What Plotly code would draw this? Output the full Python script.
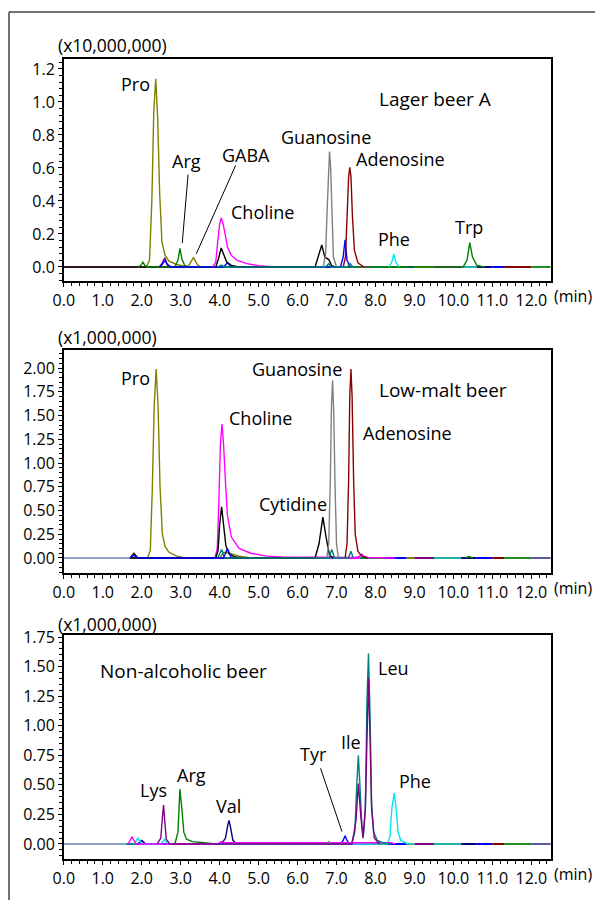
import plotly.graph_objects as go

# Lager beer A (x10,000,000)
lager_colors = ["#808000", "#008000", "#800080", "#0000ff", "#ff00ff", "#000000", "#808080", "#8b0000", "#00e5ee", "#008080"]
lager_t = [
    [2.12, 2.2, 2.26, 2.31, 2.36, 2.41, 2.46, 2.52, 2.6, 2.7, 2.9, 3.18, 3.25, 3.33, 3.41, 3.5],
    [1.9, 1.98, 2.03, 2.08, 2.15, 2.85, 2.93, 2.98, 3.03, 3.1, 3.2, 10.25, 10.35, 10.42, 10.49, 10.6, 10.8],
    [2.45, 2.53, 2.59, 2.65, 2.75],
    [2.48, 2.55, 2.6, 2.66, 2.75, 4.1, 4.2, 4.3, 7.1, 7.17, 7.22, 7.27, 7.35],
    [3.82, 3.9, 3.95, 4.0, 4.04, 4.09, 4.14, 4.2, 4.3, 4.45, 4.7, 5.0, 5.4],
    [3.9, 3.97, 4.04, 4.1, 4.18, 4.3, 4.5, 6.45, 6.55, 6.62, 6.7, 6.75, 6.8, 6.87, 6.95],
    [6.66, 6.72, 6.76, 6.79, 6.82, 6.85, 6.88, 6.92, 7.0],
    [7.17, 7.23, 7.27, 7.31, 7.34, 7.37, 7.41, 7.46, 7.55, 7.7],
    [8.35, 8.42, 8.47, 8.52, 8.6],
    [3.95, 4.05, 4.12, 6.72, 6.8, 6.86, 7.28, 7.35, 7.42],
]
lager_y = [
    [0, 0.04, 0.4, 0.95, 1.14, 0.9, 0.45, 0.15, 0.07, 0.035, 0.015, 0, 0.025, 0.059, 0.02, 0],
    [0, 0.01, 0.03, 0.01, 0, 0, 0.04, 0.113, 0.05, 0.01, 0, 0, 0.04, 0.147, 0.06, 0.01, 0],
    [0, 0.025, 0.056, 0.02, 0],
    [0, 0.02, 0.04, 0.01, 0, 0, 0.025, 0, 0, 0.06, 0.165, 0.04, 0],
    [0, 0.03, 0.15, 0.26, 0.297, 0.26, 0.2, 0.12, 0.07, 0.04, 0.02, 0.008, 0],
    [0, 0.05, 0.115, 0.08, 0.03, 0.01, 0, 0, 0.07, 0.133, 0.06, 0.05, 0.045, 0.01, 0],
    [0, 0.08, 0.35, 0.6, 0.70, 0.6, 0.3, 0.06, 0],
    [0, 0.06, 0.3, 0.54, 0.604, 0.55, 0.3, 0.1, 0.025, 0],
    [0, 0.03, 0.077, 0.03, 0],
    [0, 0.012, 0, 0, 0.02, 0, 0, 0.02, 0],
]

# Low-malt beer (x1,000,000)
lowmalt_colors = ["#808000", "#ff00ff", "#000000", "#808080", "#8b0000", "#008080", "#0000ff", "#008000"]
lowmalt_t = [
    [2.15, 2.22, 2.27, 2.32, 2.37, 2.42, 2.47, 2.53, 2.6, 2.7, 2.9, 3.1, 4.0, 4.1, 4.25, 4.5, 4.8],
    [3.88, 3.94, 3.98, 4.02, 4.06, 4.1, 4.15, 4.2, 4.3, 4.5, 4.8, 5.2, 5.6, 6.5, 7.5, 7.6, 7.65, 7.7, 7.8, 8.5],
    [1.7, 1.8, 1.9, 3.9, 3.96, 4.0, 4.05, 4.1, 4.16, 4.25, 4.4, 4.6, 6.45, 6.55, 6.65, 6.74, 6.82, 6.92],
    [6.75, 6.8, 6.84, 6.87, 6.9, 6.93, 6.96, 7.0, 7.05],
    [7.22, 7.27, 7.31, 7.34, 7.37, 7.4, 7.44, 7.48, 7.55, 7.65, 7.8],
    [3.95, 4.05, 4.12, 6.8, 6.88, 6.95, 7.3, 7.37, 7.43],
    [1.7, 1.8, 1.9, 4.1, 4.2, 4.3],
    [10.3, 10.4, 10.5],
]
lowmalt_y = [
    [0, 0.08, 0.7, 1.6, 1.99, 1.6, 0.75, 0.25, 0.12, 0.06, 0.02, 0, 0, 0.06, 0.05, 0.02, 0],
    [0, 0.1, 0.6, 1.2, 1.41, 1.2, 0.8, 0.45, 0.22, 0.1, 0.05, 0.02, 0.01, 0.005, 0.005, 0.02, 0.04, 0.02, 0.005, 0],
    [0, 0.05, 0, 0, 0.08, 0.35, 0.54, 0.38, 0.13, 0.04, 0.01, 0, 0, 0.15, 0.43, 0.2, 0.03, 0],
    [0, 0.15, 0.8, 1.6, 1.87, 1.5, 0.8, 0.15, 0],
    [0, 0.15, 0.8, 1.7, 1.99, 1.7, 0.8, 0.25, 0.07, 0.02, 0],
    [0, 0.09, 0, 0, 0.09, 0, 0, 0.07, 0],
    [0, 0.03, 0, 0, 0.1, 0],
    [0, 0.015, 0],
]

# Non-alcoholic beer (x1,000,000)
nonalc_colors = ["#008000", "#000080", "#0000ff", "#00e5ee", "#ff00ff", "#808080", "#008080", "#800080"]
nonalc_t = [
    [1.9, 2.0, 2.1, 2.85, 2.93, 2.98, 3.03, 3.08, 3.15, 3.3, 3.6, 3.9],
    [4.05, 4.15, 4.21, 4.24, 4.28, 4.34, 4.45],
    [1.9, 2.0, 2.1, 7.1, 7.17, 7.22, 7.27, 7.33],
    [1.8, 1.9, 2.0, 2.5, 2.58, 2.66, 8.3, 8.37, 8.42, 8.48, 8.53, 8.58, 8.65, 8.8, 9.0],
    [1.65, 1.75, 1.85, 3.95, 4.05, 4.15, 4.3, 8.4, 8.5],
    [6.72, 6.8, 6.88],
    [7.38, 7.47, 7.52, 7.56, 7.6, 7.65, 7.69, 7.74, 7.78, 7.82, 7.86, 7.9, 7.95, 8.05, 8.2, 8.4],
    [2.4, 2.49, 2.53, 2.56, 2.59, 2.63, 2.72, 7.4, 7.5, 7.56, 7.62, 7.68, 7.74, 7.8, 7.82, 7.86, 7.9, 7.97, 8.1],
]
nonalc_y = [
    [0, 0.03, 0, 0, 0.1, 0.465, 0.3, 0.1, 0.04, 0.02, 0.01, 0],
    [0, 0.05, 0.16, 0.20, 0.14, 0.03, 0],
    [0, 0.03, 0, 0, 0.03, 0.07, 0.03, 0],
    [0, 0.05, 0, 0, 0.04, 0, 0, 0.06, 0.3, 0.43, 0.3, 0.1, 0.03, 0.005, 0],
    [0, 0.06, 0, 0, 0.02, 0.01, 0.01, 0.01, 0],
    [0, 0.02, 0],
    [0, 0.1, 0.5, 0.75, 0.5, 0.15, 0.07, 0.3, 1.2, 1.61, 1.1, 0.35, 0.1, 0.03, 0.01, 0],
    [0, 0.05, 0.22, 0.33, 0.2, 0.04, 0, 0, 0.2, 0.51, 0.25, 0.05, 0.3, 1.2, 1.40, 0.9, 0.3, 0.05, 0],
]

# baseline colour patches (start/end minutes)
lager_base = [0, 3.9, 4.3, 4.6, 4.9, 5.1, 5.4, 5.7, 6.0, 6.3, 6.6, 7.0, 7.6, 7.9, 8.3, 8.8, 9.0, 9.5, 10.2, 10.6, 11.0, 11.3, 12.0, 12.5]
lowmalt_base = [0, 1.7, 3.9, 4.3, 4.6, 4.9, 5.1, 5.4, 5.7, 6.0, 6.3, 6.6, 7.0, 7.6, 7.9, 8.3, 8.8, 9.0, 9.5, 10.2, 10.6, 11.0, 11.3, 12.0, 12.5]
nonalc_base = [0, 1.6, 3.9, 4.3, 4.6, 4.9, 5.1, 5.4, 5.7, 6.0, 6.3, 6.6, 7.0, 7.6, 7.9, 8.3, 8.8, 9.0, 9.5, 10.2, 10.6, 11.0, 11.3, 12.0, 12.5]
base_cycle = ["#008080", "#800080", "#000080", "#ff00ff", "#006400", "#808000", "#008000",
              "#800080", "#708090", "#b22222", "#4169e1", "#ff00ff", "#008080", "#008000", "#0000ff",
              "#808000", "#800080", "#20b2aa", "#000080", "#0000ff", "#8b0000", "#228b22", "#5a5aa0"]

lager_labels = ["Pro", "Arg", "GABA", "Guanosine", "Adenosine", "Choline", "Phe", "Trp", "Lager beer A"]
lowmalt_labels = ["Pro", "Guanosine", "Low-malt beer", "Choline", "Adenosine", "Cytidine"]
nonalc_labels = ["Non-alcoholic beer", "Leu", "Ile", "Tyr", "Phe", "Arg", "Lys", "Val"]


# page pixel -> paper (the page body adds an 8 px offset)
def px(x):
    return (x - 8) / 603


def py(y):
    return 1 - (y - 8) / 900


panels = [
    dict(t=lager_t, y=lager_y, colors=lager_colors, base=lager_base, first="#2e1a1a",
         rng=[-0.085, 1.26], dtick=0.2, minor=0.04, fmt=".1f", top=59, bottom=281,
         unit="(x10,000,000)", unit_xy=(112, 45), sample=8,
         labels=lager_labels,
         pos=[(1.83, 1.11), (3.16, 0.64), (4.67, 0.68), (6.72, 0.79), (8.64, 0.655),
              (5.09, 0.33), (8.47, 0.17), (10.39, 0.24), (9.53, 1.02)],
         leaders=[(3.19, 0.56, 3.04, 0.145), (4.41, 0.615, 3.40, 0.079)]),
    dict(t=lowmalt_t, y=lowmalt_y, colors=lowmalt_colors, base=lowmalt_base, first="#8fa3c0",
         rng=[-0.158, 2.19], dtick=0.25, minor=0.05, fmt=".2f", top=350, bottom=573,
         unit="(x1,000,000)", unit_xy=(107, 337), sample=2,
         labels=lowmalt_labels,
         pos=[(1.83, 1.89), (5.99, 1.99), (9.74, 1.77), (5.06, 1.47), (8.83, 1.32), (5.87, 0.565)],
         leaders=[]),
    dict(t=nonalc_t, y=nonalc_y, colors=nonalc_colors, base=nonalc_base, first="#8fa3c0",
         rng=[-0.127, 1.767], dtick=0.25, minor=0.05, fmt=".2f", top=635, bottom=859,
         unit="(x1,000,000)", unit_xy=(107, 624), sample=0,
         labels=nonalc_labels,
         pos=[(3.08, 1.465), (8.47, 1.49), (7.37, 0.86), (6.42, 0.76), (9.01, 0.53),
              (3.28, 0.58), (2.31, 0.46), (4.24, 0.32)],
         leaders=[(6.59, 0.64, 7.14, 0.105)]),
]

fig = go.Figure()
font = "Open Sans, Noto Sans, sans-serif"
annotations = []
shapes = []
xdom = [px(63.8), px(550.8)]

for i, p in enumerate(panels):
    n = "" if i == 0 else str(i + 1)
    xa, ya = "x" + n, "y" + n

    # baseline patches first
    for k in range(len(p["base"]) - 1):
        col = p["first"] if k == 0 else base_cycle[(k - 1) % len(base_cycle)]
        if i == 1 and k == 1:
            col = "#2a1a1a"
        fig.add_trace(go.Scatter(x=[p["base"][k], p["base"][k + 1]], y=[0, 0], mode="lines",
                                 line=dict(color=col, width=2), xaxis=xa, yaxis=ya,
                                 showlegend=False, hoverinfo="skip"))
    for t, y, c in zip(p["t"], p["y"], p["colors"]):
        fig.add_trace(go.Scatter(x=t, y=y, mode="lines", line=dict(color=c, width=1.4),
                                 xaxis=xa, yaxis=ya, showlegend=False))

    fig.layout["xaxis" + n] = dict(
        domain=xdom, anchor=ya, range=[0, 12.5], tick0=0, dtick=1, tickformat=".1f",
        ticks="outside", ticklen=4, tickcolor="black", showline=True, mirror=True,
        linecolor="black", linewidth=1.5, showgrid=False, zeroline=False, automargin=False,
        minor=dict(dtick=0.2, ticks="outside", ticklen=3, tickcolor="black"),
        tickfont=dict(size=16, color="black", family=font))
    fig.layout["yaxis" + n] = dict(
        domain=[py(p["bottom"]), py(p["top"])], anchor=xa, range=p["rng"], tick0=0,
        dtick=p["dtick"], tickformat=p["fmt"], ticks="outside", ticklen=4, tickcolor="black",
        showline=True, mirror=True, linecolor="black", linewidth=1.5,
        showgrid=False, zeroline=False, automargin=False,
        minor=dict(dtick=p["minor"], ticks="outside", ticklen=3, tickcolor="black"),
        tickfont=dict(size=16, color="black", family=font))

    for j, (lab, (lx, ly)) in enumerate(zip(p["labels"], p["pos"])):
        annotations.append(dict(x=lx, y=ly, xref=xa, yref=ya, text=lab, showarrow=False,
                                xanchor="center", yanchor="middle",
                                font=dict(size=19 if j == p["sample"] else 18,
                                          color="black", family=font)))
    for (x0, y0, x1, y1) in p["leaders"]:
        shapes.append(dict(type="line", xref=xa, yref=ya, x0=x0, y0=y0, x1=x1, y1=y1,
                           line=dict(color="black", width=1)))

    ux, uy = p["unit_xy"]
    annotations.append(dict(x=px(ux), y=py(uy), xref="paper", yref="paper", text=p["unit"],
                            showarrow=False, xanchor="center", yanchor="middle",
                            font=dict(size=17.5, color="black", family=font)))
    annotations.append(dict(x=px(573), y=py(p["bottom"] + 15), xref="paper", yref="paper",
                            text="(min)", showarrow=False, xanchor="center", yanchor="middle",
                            font=dict(size=16, color="black", family=font)))

# outer frame (top and left edge)
shapes.append(dict(type="line", xref="paper", yref="paper", x0=px(9), y0=py(12),
                   x1=1, y1=py(12), line=dict(color="#444", width=1.5)))
shapes.append(dict(type="line", xref="paper", yref="paper", x0=px(9), y0=py(12),
                   x1=px(9), y1=0, line=dict(color="#444", width=1.5)))

fig.update_layout(
    width=603, height=900,
    margin=dict(l=0, r=0, t=0, b=0),
    paper_bgcolor="white", plot_bgcolor="white",
    font=dict(family=font, color="black"),
    annotations=annotations, shapes=shapes,
    showlegend=False,
)

fig.write_html("out.html")
